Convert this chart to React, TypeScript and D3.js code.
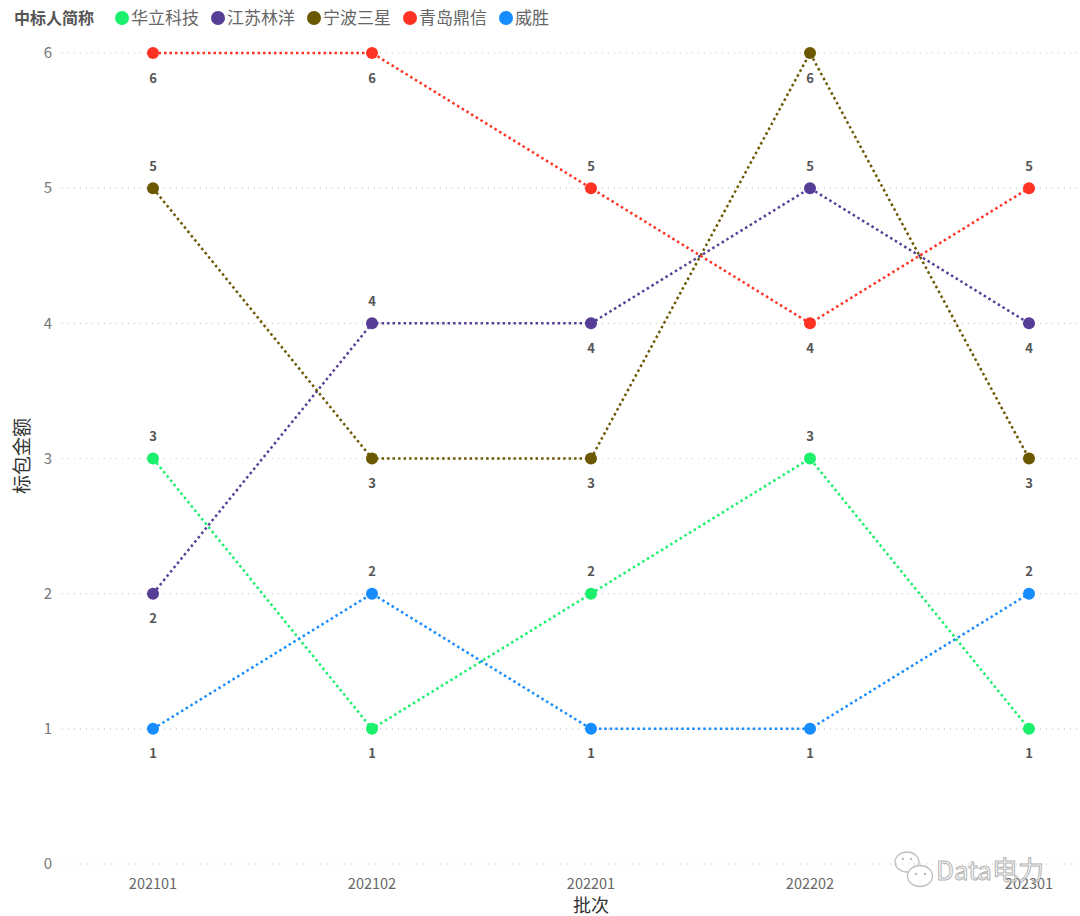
import React from 'react';
import { scalePoint, scaleLinear, line } from 'd3';

const batches = ['202101', '202102', '202201', '202202', '202301'];
const bidders = ['华立科技', '江苏林洋', '宁波三星', '青岛鼎信', '威胜'];
const colors = ['#1BF06C', '#563D96', '#6B5700', '#FF3323', '#168CFF'];

const huali = [3, 1, 2, 3, 1];
const linyang = [2, 4, 4, 5, 4];
const sanxing = [5, 3, 3, 6, 3];
const dingxin = [6, 6, 5, 4, 5];
const weisheng = [1, 2, 1, 1, 2];
const seriesValues = [huali, linyang, sanxing, dingxin, weisheng];

// label placement per point: 1 = above, -1 = below
const labelSide = [
    [1, -1, 1, 1, -1],
    [-1, 1, -1, 1, -1],
    [1, -1, -1, -1, -1],
    [-1, -1, 1, -1, 1],
    [-1, 1, -1, -1, 1],
];

const yTicks = [0, 1, 2, 3, 4, 5, 6];

const W = 1080;
const H = 916;
const FONT = '"Noto Sans CJK SC", "Noto Sans", sans-serif';

export default function App() {
    const x = scalePoint<string>().domain(batches).range([153, 1029]);
    const y = scaleLinear().domain([0, 6]).range([864, 53]);

    const path = line<number>()
        .x((_, i) => x(batches[i]) as number)
        .y(d => y(d));

    // legend layout
    const legendItems: { name: string; color: string; cx: number }[] = [];
    let lx = 122;
    bidders.forEach((b, i) => {
        legendItems.push({ name: b, color: colors[i], cx: lx });
        lx += 9 + b.length * 17 + 19;
    });

    return (
        <div style={{ position: 'absolute', left: 0, top: 0 }}>
            <svg width={W} height={H} style={{ display: 'block', background: '#fff', fontFamily: FONT }}>
                {/* legend */}
                <text x={14} y={24} fontSize={16} fontWeight="bold" fill="#555">中标人简称</text>
                {legendItems.map(it => (
                    <g key={it.name}>
                        <circle cx={it.cx} cy={18} r={7} fill={it.color} />
                        <text x={it.cx + 9} y={24} fontSize={17} fill="#666">{it.name}</text>
                    </g>
                ))}

                {/* grid + y axis */}
                {yTicks.map(t => (
                    <g key={t}>
                        <line x1={62} x2={W} y1={y(t)} y2={y(t)} stroke="#c8c8c8" strokeWidth={1.2}
                            strokeDasharray="1 5" />
                        <text x={52} y={y(t)} dy="0.35em" textAnchor="end" fontSize={15} fill="#777">{t}</text>
                    </g>
                ))}

                {/* x axis labels */}
                {batches.map(b => (
                    <text key={b} x={x(b)} y={889} textAnchor="middle" fontSize={14.5} fill="#666">{b}</text>
                ))}
                <text x={591} y={912} textAnchor="middle" fontSize={18} fill="#333">批次</text>
                <text transform={`translate(29,456) rotate(-90)`} textAnchor="middle" fontSize={19} fill="#333">标包金额</text>

                {/* series lines */}
                {seriesValues.map((vals, si) => (
                    <path key={'l' + si} d={path(vals) as string} fill="none" stroke={colors[si]}
                        strokeWidth={2.5} strokeDasharray="2.5 3" />
                ))}

                {/* points */}
                {seriesValues.map((vals, si) => vals.map((v, i) => (
                    <circle key={`p${si}-${i}`} cx={x(batches[i])} cy={y(v)} r={6} fill={colors[si]} />
                )))}

                {/* data labels */}
                {seriesValues.map((vals, si) => vals.map((v, i) => (
                    <text key={`t${si}-${i}`} x={x(batches[i])} y={y(v) + (labelSide[si][i] > 0 ? -22 : 25)}
                        dy="0.35em" textAnchor="middle" fontSize={13} fontWeight="bold" fill="#555">{v}</text>
                )))}

                {/* watermark */}
                <g opacity={0.75}>
                    <ellipse cx={907} cy={862} rx={12} ry={10} fill="none" stroke="#aaa" strokeWidth={1.3} />
                    <ellipse cx={920} cy={876} rx={12.5} ry={10.5} fill="#fff" stroke="#aaa" strokeWidth={1.3} />
                    <circle cx={916} cy={874} r={1.3} fill="#aaa" />
                    <circle cx={925} cy={874} r={1.3} fill="#aaa" />
                    <circle cx={903} cy={859} r={1.2} fill="#aaa" />
                    <circle cx={911} cy={859} r={1.2} fill="#aaa" />
                    <text x={936} y={880} fontSize={26} fill="#fff" stroke="#999" strokeWidth={1}
                        fontFamily={'"Noto Sans CJK SC", sans-serif'}>Data电力</text>
                </g>
            </svg>
        </div>
    );
}
